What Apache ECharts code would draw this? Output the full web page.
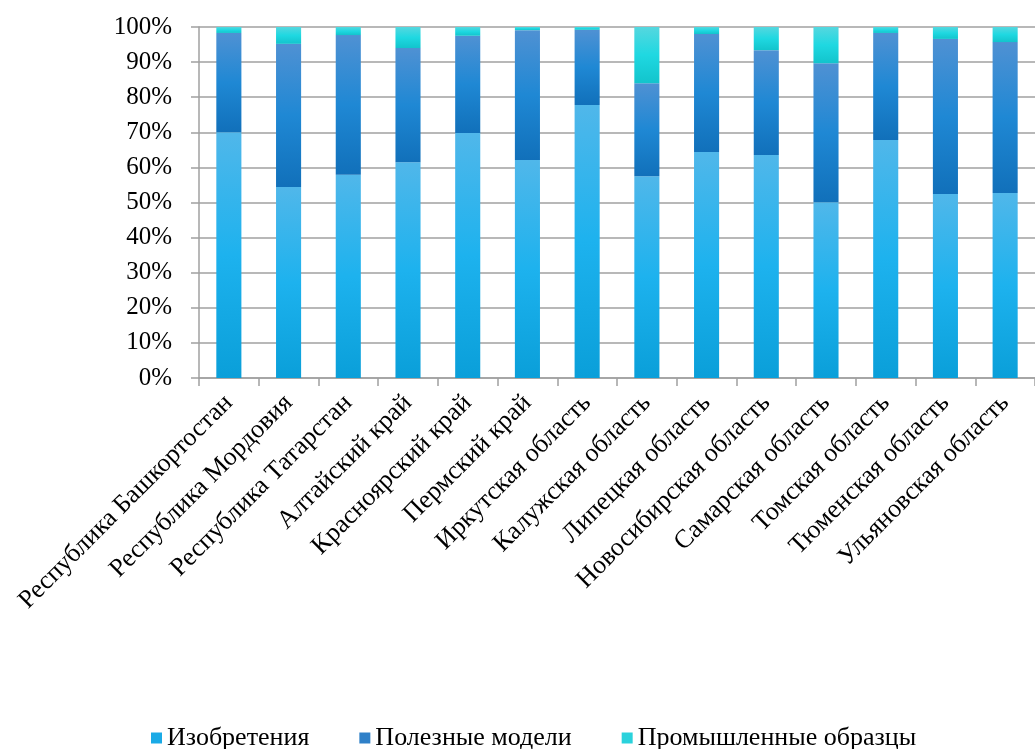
<!DOCTYPE html>
<html>
<head>
<meta charset="utf-8">
<script src="https://cdn.jsdelivr.net/npm/echarts@6/dist/echarts.min.js"></script>
<style>
  html, body { margin: 0; padding: 0; background: #ffffff; }
  #chart { width: 1035px; height: 749px; }
</style>
</head>
<body>
<div id="chart"></div>
<script>
// Regions (categories)
const regions = [
  'Республика Башкортостан', 'Республика Мордовия', 'Республика Татарстан',
  'Алтайский край', 'Красноярский край', 'Пермский край', 'Иркутская область',
  'Калужская область', 'Липецкая область', 'Новосибирская область',
  'Самарская область', 'Томская область', 'Тюменская область', 'Ульяновская область'
];

// Shares of each kind of patent, %
const inventions   = [70.0, 54.4, 57.9, 61.5, 69.8, 62.1, 77.8, 57.5, 64.4, 63.5, 50.1, 67.8, 52.4, 52.7];
const utilityModels = [28.3, 40.8, 39.8, 32.5, 27.7, 37.0, 21.4, 26.5, 33.6, 29.9, 39.6, 30.5, 44.2, 43.0];
const designs      = [1.7, 4.8, 2.3, 6.0, 2.5, 0.9, 0.8, 16.0, 2.0, 6.6, 10.3, 1.7, 3.4, 4.3];

const seriesNames = ['Изобретения', 'Полезные модели', 'Промышленные образцы'];
const yTicks = [0, 10, 20, 30, 40, 50, 60, 70, 80, 90, 100];

const serif = '"Liberation Serif", "Times New Roman", serif';

function grad(c0, c1, c2) {
  return new echarts.graphic.LinearGradient(0, 0, 0, 1, [
    { offset: 0, color: c0 },
    { offset: 0.5, color: c1 },
    { offset: 1, color: c2 }
  ]);
}

const fills = [
  grad('#50b7ea', '#1db2ee', '#0a9fd9'),
  grad('#4f91d3', '#1f88d4', '#1170ba'),
  grad('#55d7df', '#1fd8e1', '#12c4cc')
];
const legendColors = ['#1aaae6', '#2f80c8', '#2ad2dc'];

const chart = echarts.init(document.getElementById('chart'), null, { renderer: 'canvas' });

const dataSets = [inventions, utilityModels, designs];

chart.setOption({
  animation: false,
  backgroundColor: '#ffffff',
  grid: { left: 199, top: 27, width: 850, bottom: 371, containLabel: false },
  legend: {
    bottom: -7,
    left: 146,
    itemWidth: 11,
    itemHeight: 11,
    itemGap: 50,
    icon: 'rect',
    textStyle: { fontFamily: serif, fontSize: 26, color: '#000' },
    data: seriesNames.map((n, i) => ({ name: n, itemStyle: { color: legendColors[i] } }))
  },
  xAxis: {
    type: 'category',
    data: regions,
    axisLine: { show: true, lineStyle: { color: '#a0a0a0', width: 1.5 } },
    axisTick: { show: true, length: 8, alignWithLabel: false, lineStyle: { color: '#a0a0a0', width: 1.5 } },
    axisLabel: {
      rotate: 45,
      interval: 0,
      margin: 21,
      fontFamily: serif,
      fontSize: 26,
      color: '#000'
    }
  },
  yAxis: {
    type: 'value',
    min: yTicks[0],
    max: yTicks[yTicks.length - 1],
    interval: 10,
    axisLine: { show: true, lineStyle: { color: '#a0a0a0', width: 1.5 } },
    axisTick: { show: true, length: 8, lineStyle: { color: '#a0a0a0', width: 1.5 } },
    splitLine: { show: true, lineStyle: { color: '#a0a0a0', width: 1.5 } },
    axisLabel: {
      formatter: '{value}%',
      margin: 27,
      fontFamily: serif,
      fontSize: 25,
      color: '#000'
    }
  },
  series: seriesNames.map((name, i) => ({
    name: name,
    type: 'bar',
    stack: 'total',
    barWidth: '42%',
    data: dataSets[i],
    itemStyle: { color: fills[i] }
  }))
});
</script>
</body>
</html>
